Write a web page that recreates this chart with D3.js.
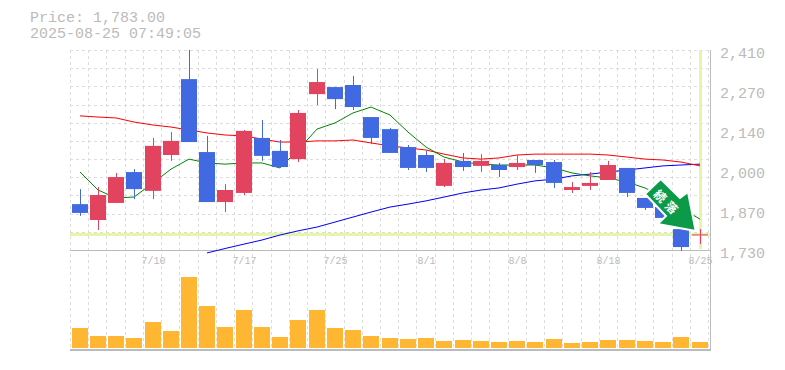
<!DOCTYPE html>
<html>
<head>
<meta charset="utf-8">
<script src="https://cdn.jsdelivr.net/npm/d3@7"></script>
<style>
body { margin: 0; background: #fff; }
svg { display: block; }
</style>
</head>
<body>
<svg width="785" height="370"></svg>
<script>
// trading days
const dates = ["7/4","7/7","7/8","7/9","7/10","7/11","7/14","7/15","7/16","7/17","7/18","7/22","7/23","7/24","7/25",
    "7/28","7/29","7/30","7/31","8/1","8/4","8/5","8/6","8/7","8/8","8/12","8/13","8/14","8/15","8/18","8/19","8/20","8/21","8/22","8/25"];
const dateTicks = ["7/10","7/17","7/25","8/1","8/8","8/18","8/25"];

const openPrice  = [1886,1832,1890,1995,1931,2053,2311,2063,1893,1924,2111,2067,2039,2260,2284,2291,2182,2141,2080,2053,1948,2033,2016,2019,2012,2036,2029,1934,1948,1968,2009,1907,1876,1801,1783];
const highPrice  = [1937,1944,1992,2005,2111,2131,2410,2118,1954,2138,2172,2104,2206,2345,2284,2322,2182,2145,2087,2067,2039,2060,2056,2026,2053,2036,2036,1961,1995,2033,2009,1907,1876,1801,1801];
const lowPrice   = [1846,1798,1890,1903,1903,2033,2097,1893,1859,1917,2033,2009,2029,2223,2209,2206,2090,2060,2002,1995,1944,1999,1995,1978,2002,1992,1941,1924,1934,1968,1910,1866,1839,1727,1750];
const closePrice = [1856,1917,1978,1937,2084,2101,2097,1893,1934,2135,2050,2012,2196,2301,2243,2216,2111,2060,2009,2009,2026,2012,2033,2002,2026,2019,1958,1944,1958,2019,1924,1873,1839,1740,1783];

const maShort = [1995,1934,1907,1910,1958,2005,2039,2026,2022,2026,2026,2009,2070,2141,2162,2196,2216,2189,2131,2080,2046,2029,2022,2019,2019,2019,2009,1992,1982,1975,1961,1941,1910,1873,1835];
const maMid   = [2186,2182,2179,2165,2155,2148,2138,2128,2121,2118,2107,2097,2097,2101,2101,2104,2094,2084,2077,2070,2056,2043,2039,2043,2053,2056,2056,2056,2056,2053,2046,2039,2036,2029,2016];
// long average only starts at the 8th day
const maLong  = [null,null,null,null,null,null,null,1720,1735,1750,1764,1781,1795,1808,1825,1842,1859,1876,1886,1897,1910,1924,1934,1941,1954,1965,1971,1982,1988,1995,2002,2009,2016,2019,2022];

const volume = [200,120,120,100,260,170,710,420,210,380,210,110,280,380,200,180,120,100,90,100,70,80,70,60,70,60,90,50,60,80,80,70,60,110,60];

const yTicks = [2410,2274,2138,2002,1866,1730];
const lastPrice = 1783;

const svg = d3.select("svg");
const plotLeft = 70, plotRight = 710, plotTop = 50, chartBottom = 250, volBottom = 350;
const labelColor = "#bbb", gridColor = "#ddd", upColor = "#e2435f", downColor = "#4169e1", hairColor = "#e5f5a9";
const monoFont = "'Liberation Mono', monospace";

const x = d3.scaleBand().domain(d3.range(dates.length)).range([70.5, 708.7]);
const y = d3.scaleLinear().domain([1730, 2410]).range([chartBottom, plotTop]);
const yVol = d3.scaleLinear().domain([0, 710]).range([348, 277]);
const cx = i => Math.round(x(i) + x.bandwidth() / 2);

svg.append("defs").append("clipPath").attr("id", "plot")
    .append("rect").attr("x", plotLeft).attr("y", plotTop).attr("width", plotRight - plotLeft).attr("height", volBottom - plotTop);

// header
svg.append("text").attr("x", 30).attr("y", 22).attr("fill", labelColor)
    .style("font", "15px " + monoFont).text("Price: 1,783.00");
svg.append("text").attr("x", 30).attr("y", 38).attr("fill", labelColor)
    .style("font", "15px " + monoFont).text("2025-08-25 07:49:05");

// grid
const grid = svg.append("g").attr("stroke", gridColor).attr("stroke-dasharray", "3,3");
grid.selectAll("line.v").data(d3.range(dates.length + 1)).enter().append("line")
    .attr("x1", i => Math.floor(70.5 + i * x.step()) + 0.5)
    .attr("x2", i => Math.floor(70.5 + i * x.step()) + 0.5)
    .attr("y1", plotTop).attr("y2", volBottom);
grid.selectAll("line.h").data(d3.range(11)).enter().append("line")
    .attr("x1", plotLeft).attr("x2", plotRight)
    .attr("y1", i => Math.round(plotTop + i * 18.18) + 0.5)
    .attr("y2", i => Math.round(plotTop + i * 18.18) + 0.5);

// frame
const frame = svg.append("g").attr("stroke", labelColor);
frame.append("line").attr("x1", plotLeft).attr("x2", plotRight).attr("y1", 250.5).attr("y2", 250.5);
frame.append("line").attr("x1", plotLeft).attr("x2", plotRight + 1).attr("y1", 350).attr("y2", 350).attr("stroke-width", 2);
frame.append("line").attr("x1", plotRight + 0.5).attr("x2", plotRight + 0.5).attr("y1", plotTop).attr("y2", volBottom);

// hairlines for the last price
svg.append("line").attr("x1", plotLeft).attr("x2", plotRight)
    .attr("y1", y(lastPrice)).attr("y2", y(lastPrice))
    .attr("stroke", hairColor).attr("stroke-width", 3);
svg.append("line").attr("x1", cx(34) + 0.5).attr("x2", cx(34) + 0.5)
    .attr("y1", plotTop).attr("y2", chartBottom - 1)
    .attr("stroke", hairColor).attr("stroke-width", 3);

// moving averages
const plot = svg.append("g").attr("clip-path", "url(#plot)");
const maLine = d3.line().defined(d => d != null).x((d, i) => cx(i)).y(d => y(d));
[[maLong, "#00f"], [maMid, "#f00"], [maShort, "#080"]].forEach(function(m) {
    plot.append("path").datum(m[0]).attr("d", maLine)
        .attr("fill", "none").attr("stroke", m[1]).attr("stroke-width", 1);
});

// candles
const candleColor = i => closePrice[i] >= openPrice[i] ? upColor : downColor;
const candles = plot.selectAll("g.candle").data(d3.range(dates.length)).enter().append("g").attr("class", "candle");
candles.append("line")
    .attr("x1", i => cx(i) + 0.5).attr("x2", i => cx(i) + 0.5)
    .attr("y1", i => y(highPrice[i])).attr("y2", i => y(lowPrice[i]))
    .attr("stroke", candleColor).attr("stroke-width", 1);
candles.append("rect")
    .attr("x", i => cx(i) - 8).attr("width", 16)
    .attr("y", i => y(Math.max(openPrice[i], closePrice[i])))
    .attr("height", i => Math.max(1, Math.abs(y(openPrice[i]) - y(closePrice[i]))))
    .attr("fill", candleColor);

// volume
svg.selectAll("rect.vol").data(volume).enter().append("rect").attr("class", "vol")
    .attr("x", (d, i) => cx(i) - 8).attr("width", 16)
    .attr("y", d => yVol(d)).attr("height", d => yVol(0) - yVol(d))
    .attr("fill", "#ffb733");

// axis labels
svg.selectAll("text.yl").data(yTicks).enter().append("text").attr("class", "yl")
    .attr("x", 720).attr("y", d => y(d) + 8).attr("fill", labelColor)
    .style("font", "15px " + monoFont)
    .text(d => d3.format(",")(Math.round(d / 10) * 10));
svg.selectAll("text.xl").data(dateTicks).enter().append("text").attr("class", "xl")
    .attr("x", d => cx(dates.indexOf(d)) + 0.5).attr("y", 264).attr("text-anchor", "middle").attr("fill", labelColor)
    .style("font", "10px " + monoFont)
    .text(d => d);

// signal arrow
const arrow = svg.append("g");
arrow.append("polygon")
    .attr("points", "660.7,179 680,198 688,192 695.7,231 657.7,224 666,216 645,194")
    .attr("fill", "#0a9a48").attr("stroke", "#fff").attr("stroke-width", 2);
arrow.append("text")
    .attr("transform", "translate(668,202.5) rotate(45)")
    .attr("text-anchor", "middle").attr("dominant-baseline", "central").attr("fill", "#fff")
    .style("font", "bold 12px 'Noto Sans CJK JP'").style("letter-spacing", "4px").text("続落");
</script>
</body>
</html>
